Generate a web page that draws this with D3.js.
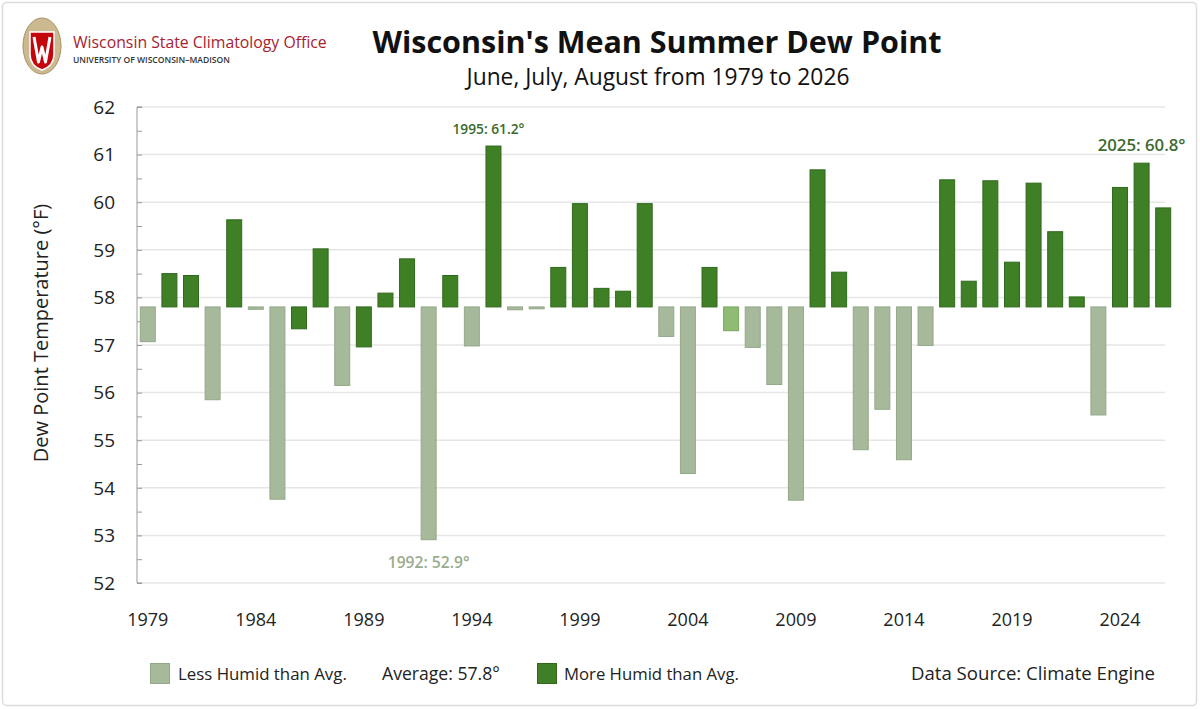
<!DOCTYPE html>
<html><head><meta charset="utf-8">
<script src="https://cdn.jsdelivr.net/npm/d3@7"></script>
<style>
html,body{margin:0;padding:0;background:#fff;}
svg{display:block;font-family:"Open Sans",sans-serif;}
</style></head>
<body>
<svg id="chart" width="1200" height="709"></svg>
<script>
// ---------- data ----------
const years = d3.range(1979, 2027);
const dewPoint = [57.07,58.50,58.46,55.85,59.63,57.75,53.76,57.34,59.02,56.15,
                  56.96,58.09,58.81,52.91,58.46,56.98,61.18,57.74,57.76,58.63,
                  59.97,58.19,58.13,59.97,57.18,54.30,58.63,57.30,56.95,56.17,
                  53.74,60.68,58.53,54.80,55.65,54.59,56.99,60.47,58.34,60.45,
                  58.74,60.40,59.38,58.01,55.53,60.31,60.82,59.88];
// L = less humid colour, M = more humid colour, X = mid-green (as drawn)
const group = ["L","M","M","L","M","L","L","M","M","L",
               "M","M","M","L","M","L","M","L","L","M",
               "M","M","M","M","L","L","M","X","L","L",
               "L","M","M","L","L","L","L","M","M","M",
               "M","M","M","M","L","M","M","M"];
const average = 57.8;
const yTicks = [52,53,54,55,56,57,58,59,60,61,62];
const xTickYears = [1979,1984,1989,1994,1999,2004,2009,2014,2019,2024];
const annoYears = [1995, 1992, 2025];
const annoLabels = ["1995: 61.2°", "1992: 52.9°", "2025: 60.8°"];
const legendLabels = ["Less Humid than Avg.", "Average: 57.8°", "More Humid than Avg."];

// ---------- styles ----------
const fills = {L:"#a6ba9b", M:"#3f7f26", X:"#8fbb72"};
const strokes = {L:"#93a889", M:"#2f6a1c", X:"#7aa862"};

const svg = d3.select("#chart");

function fit(sel, target){
  const w = sel.node().getComputedTextLength();
  const fs = parseFloat(sel.attr("font-size"));
  sel.attr("font-size", (fs*target/w).toFixed(2));
  return sel;
}

// frame
svg.append("rect").attr("x",2.5).attr("y",2.5).attr("width",1194).attr("height",703)
  .attr("rx",4).attr("fill","none").attr("stroke","#dcdcdc").attr("stroke-width",1.5);

// ---------- scales ----------
const x = d3.scaleBand().domain(years).range([137,1174]).paddingInner(0.26).paddingOuter(0.13);
const y = d3.scaleLinear().domain([52,62]).range([583,107]);

// gridlines
svg.append("g").selectAll("line").data(yTicks).join("line")
  .attr("x1",137).attr("x2",1165)
  .attr("y1",d=>y(d)).attr("y2",d=>y(d))
  .attr("stroke","#e6e6e6").attr("stroke-width",1.5);

// y axis with half-degree inner ticks
const yAxis = d3.axisRight(y).tickValues(d3.range(52,62.01,0.5)).tickSize(5).tickFormat("");
const ya = svg.append("g").attr("transform","translate(137,0)").call(yAxis);
ya.select(".domain").attr("stroke","#9a9a9a").attr("d","M5,107H0V583H5");
ya.selectAll(".tick line").attr("stroke","#9a9a9a");

// y labels
svg.append("g").selectAll("text").data(yTicks).join("text")
  .attr("x",115).attr("y",d=>y(d)).attr("dy","0.36em")
  .attr("text-anchor","end").attr("font-size",19).attr("fill","#222")
  .text(d=>d);

// y title
svg.append("text").attr("transform","translate(48,333) rotate(-90)")
  .attr("text-anchor","middle").attr("font-size",20).attr("fill","#222")
  .text("Dew Point Temperature (°F)");

// x labels
const xa = svg.append("g").attr("transform","translate(0,583)")
  .call(d3.axisBottom(x).tickValues(xTickYears).tickSize(0).tickPadding(30));
xa.select(".domain").remove();
xa.selectAll("text").attr("font-size",18).attr("fill","#222").attr("font-family","Open Sans, sans-serif");

// bars
const data = years.map((yr,i)=>({year:yr, v:dewPoint[i], g:group[i]}));
svg.append("g").selectAll("rect").data(data).join("rect")
  .attr("x",d=>x(d.year)+0.5)
  .attr("width",x.bandwidth()-1)
  .attr("y",d=>Math.min(y(d.v),y(average)))
  .attr("height",d=>Math.max(1.5,Math.abs(y(d.v)-y(average))))
  .attr("fill",d=>fills[d.g]).attr("stroke",d=>strokes[d.g]).attr("stroke-width",1);

// annotations
const annoColors = ["#3b6a2a","#9aac8d","#3e6a2f"];
annoYears.forEach((yr,i)=>{
  const v = dewPoint[years.indexOf(yr)];
  const above = v > average;
  const t = svg.append("text")
    .attr("x", x(yr)+x.bandwidth()/2 - (i===0?5:0))
    .attr("y", above ? y(v)-12 : y(v)+28)
    .attr("text-anchor","middle").attr("font-size",15).attr("font-weight",600)
    .attr("fill",annoColors[i]).text(annoLabels[i]);
  fit(t, [72,82,88][i]);
});

// title
fit(svg.append("text").attr("x",657).attr("y",53).attr("text-anchor","middle")
  .attr("font-size",30).attr("font-weight",700).attr("fill","#111")
  .text("Wisconsin's Mean Summer Dew Point"), 569);
fit(svg.append("text").attr("x",658).attr("y",85).attr("text-anchor","middle")
  .attr("font-size",20).attr("fill","#111")
  .text("June, July, August from 1979 to 2026"), 383);

// logo
const logo = svg.append("g");
logo.append("ellipse").attr("cx",42).attr("cy",46).attr("rx",19).attr("ry",28)
  .attr("fill","#cdb98f").attr("stroke","#a88f62").attr("stroke-width",1);
logo.append("path").attr("d","M30,32 H54 V54 Q54,66 42,70 Q30,66 30,54 Z")
  .attr("fill","#c5050c").attr("stroke","#fff").attr("stroke-width",1.5);
logo.append("path").attr("d","M34,37 L38.5,62 L42,47 L45.5,62 L50,37")
  .attr("fill","none").attr("stroke","#fff").attr("stroke-width",3).attr("stroke-linejoin","round");
fit(logo.append("text").attr("x",73).attr("y",48).attr("font-size",16).attr("fill","#a8222f")
  .text("Wisconsin State Climatology Office"), 254);
fit(logo.append("text").attr("x",73).attr("y",63).attr("font-size",7.5).attr("font-weight",600).attr("fill","#333")
  .text("UNIVERSITY OF WISCONSIN–MADISON"), 157);

// legend
const leg = svg.append("g");
leg.append("rect").attr("x",150.5).attr("y",663.5).attr("width",19).attr("height",20)
  .attr("fill",fills.L).attr("stroke",strokes.L);
fit(leg.append("text").attr("x",178).attr("y",680).attr("font-size",16).attr("fill","#222").text(legendLabels[0]),169);
fit(leg.append("text").attr("x",382).attr("y",680).attr("font-size",16).attr("fill","#222").text(legendLabels[1]),118);
leg.append("rect").attr("x",537.5).attr("y",663.5).attr("width",19).attr("height",20)
  .attr("fill",fills.M).attr("stroke",strokes.M);
fit(leg.append("text").attr("x",564).attr("y",680).attr("font-size",16).attr("fill","#222").text(legendLabels[2]),175);
fit(leg.append("text").attr("x",911).attr("y",680).attr("font-size",17).attr("fill","#222").text("Data Source: Climate Engine"),244);
</script>
</body></html>
